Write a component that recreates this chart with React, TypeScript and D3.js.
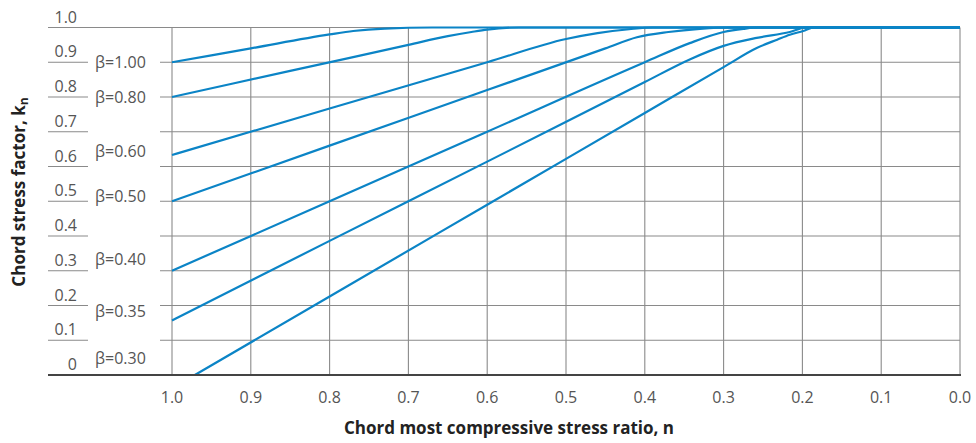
import React from 'react';
import * as d3 from 'd3';

// Axis ticks
const xTicks = [1.0, 0.9, 0.8, 0.7, 0.6, 0.5, 0.4, 0.3, 0.2, 0.1, 0.0];
const yTicks = [1.0, 0.9, 0.8, 0.7, 0.6, 0.5, 0.4, 0.3, 0.2, 0.1, 0.0];
const yTickLabels = ['1.0', '0.9', '0.8', '0.7', '0.6', '0.5', '0.4', '0.3', '0.2', '0.1', '0'];
const xTickLabels = ['1.0', '0.9', '0.8', '0.7', '0.6', '0.5', '0.4', '0.3', '0.2', '0.1', '0.0'];

// Series labels and the k value where each label sits
const betaLabels = ['β=1.00', 'β=0.80', 'β=0.60', 'β=0.50', 'β=0.40', 'β=0.35', 'β=0.30'];
const betaLabelK = [0.9, 0.8, 0.645, 0.515, 0.335, 0.185, 0.05];

// Curves: [n, k] points
const beta100: [number, number][] = [[1.0, 0.9], [0.9, 0.94], [0.8, 0.98], [0.77, 0.99], [0.73, 0.997], [0.67, 1.0], [0.0, 1.0]];
const beta080: [number, number][] = [[1.0, 0.8], [0.85, 0.875], [0.7, 0.95], [0.65, 0.975], [0.62, 0.987], [0.6, 0.994], [0.56, 1.0], [0.0, 1.0]];
const beta060: [number, number][] = [[1.0, 0.633], [0.8, 0.767], [0.6, 0.9], [0.5, 0.967], [0.46, 0.984], [0.42, 0.995], [0.39, 1.0], [0.0, 1.0]];
const beta050: [number, number][] = [[1.0, 0.5], [0.8, 0.66], [0.6, 0.82], [0.45, 0.94], [0.41, 0.972], [0.37, 0.987], [0.33, 0.996], [0.29, 1.0], [0.0, 1.0]];
const beta040: [number, number][] = [[1.0, 0.3], [0.8, 0.5], [0.6, 0.7], [0.4, 0.9], [0.343, 0.955], [0.3, 0.987], [0.275, 0.996], [0.255, 1.0], [0.0, 1.0]];
const beta035: [number, number][] = [[1.0, 0.157], [0.8, 0.386], [0.6, 0.614], [0.4, 0.843], [0.343, 0.908], [0.3, 0.947], [0.258, 0.97], [0.216, 0.987], [0.195, 1.0], [0.0, 1.0]];
const beta030: [number, number][] = [[0.971, 0.0], [0.8, 0.226], [0.6, 0.49], [0.4, 0.754], [0.3, 0.886], [0.258, 0.941], [0.232, 0.965], [0.216, 0.979], [0.199, 0.99], [0.185, 1.0], [0.0, 1.0]];

const series = [beta100, beta080, beta060, beta050, beta040, beta035, beta030];

const W = 976;
const H = 443;
const FONT = '"Open Sans", "Noto Sans", sans-serif';

export default function App() {
  const x = d3.scaleLinear().domain([1, 0]).range([172, 960]);
  const y = d3.scaleLinear().domain([0, 1]).range([375, 27.5]);
  const line = d3
    .line<[number, number]>()
    .x((d) => x(d[0]))
    .y((d) => y(d[1]))
    .curve(d3.curveMonotoneX);

  const leftStart = 48;
  const leftEnd = 88;
  const gridStart = 160;
  const gridEnd = x(0);

  return (
    <svg
      width={W}
      height={H}
      style={{ position: 'absolute', left: 0, top: 0, background: '#fff' }}
      fontFamily={FONT}
    >
      <rect x={0} y={0} width={W} height={H} fill="#fff" />
      {/* vertical grid */}
      {xTicks.map((t) => (
        <line key={'v' + t} x1={x(t)} x2={x(t)} y1={y(1)} y2={y(0)} stroke="#8a8a8a" strokeWidth={1.1} />
      ))}
      {/* horizontal grid */}
      {yTicks.map((t) =>
        t === 1 ? (
          <line key={'h' + t} x1={leftStart} x2={gridEnd} y1={y(t)} y2={y(t)} stroke="#8a8a8a" strokeWidth={1.1} />
        ) : t === 0 ? null : (
          <g key={'h' + t}>
            <line x1={leftStart} x2={leftEnd} y1={y(t)} y2={y(t)} stroke="#8a8a8a" strokeWidth={1.1} />
            <line x1={gridStart} x2={gridEnd} y1={y(t)} y2={y(t)} stroke="#8a8a8a" strokeWidth={1.1} />
          </g>
        )
      )}
      {/* y tick labels */}
      {yTicks.map((t, i) => (
        <text key={'yl' + t} x={77} y={y(t) - 5} textAnchor="end" fontSize={16} fill="#555">
          {yTickLabels[i]}
        </text>
      ))}
      {/* beta labels */}
      {betaLabels.map((s, i) => (
        <text key={s} x={95} y={y(betaLabelK[i]) + 6} fontSize={16} fill="#555">
          {s}
        </text>
      ))}
      {/* curves */}
      {series.map((s, i) => (
        <path key={'c' + i} d={line(s) || ''} fill="none" stroke="#0b84c6" strokeWidth={2.2} />
      ))}
      {/* x axis line */}
      <line x1={leftStart} x2={gridEnd + 1} y1={y(0)} y2={y(0)} stroke="#444" strokeWidth={2} />
      {/* x tick labels */}
      {xTicks.map((t, i) => (
        <text key={'xl' + t} x={x(t)} y={403} textAnchor="middle" fontSize={16} fill="#555">
          {xTickLabels[i]}
        </text>
      ))}
      {/* axis titles */}
      <text x={509} y={434} textAnchor="middle" fontSize={17} fontWeight="bold" fill="#222">
        Chord most compressive stress ratio, n
      </text>
      <text
        transform="translate(25,192) rotate(-90)"
        textAnchor="middle"
        fontSize={17}
        fontWeight="bold"
        fill="#222"
      >
        Chord stress factor, k
        <tspan fontSize={12} dy={3}>n</tspan>
      </text>
    </svg>
  );
}
